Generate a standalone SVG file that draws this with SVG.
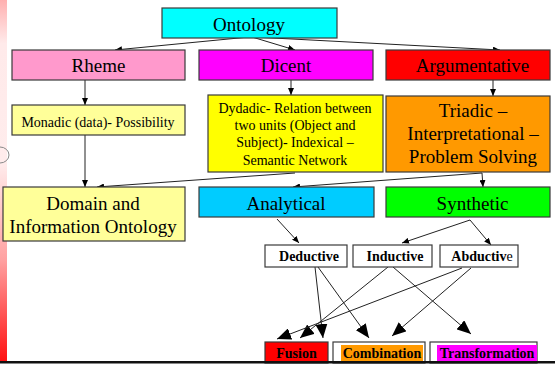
<svg xmlns="http://www.w3.org/2000/svg" width="555" height="365" viewBox="0 0 555 365">
<style>
.box{stroke:#3a3a3a;stroke-width:1.2}
.t{font-family:"Liberation Serif","Times New Roman",serif;fill:#000;text-anchor:middle}
.big{font-size:19px}
.sm{font-size:14px}
.b{font-size:14px;font-weight:bold}
.c{stroke:#222;stroke-width:1;fill:none}
</style>
<defs>
<linearGradient id="strip" x1="0" y1="0" x2="0" y2="1">
<stop offset="0" stop-color="#ffb0b0"/>
<stop offset="0.12" stop-color="#ffeaea"/>
<stop offset="0.45" stop-color="#ffecec"/>
<stop offset="0.72" stop-color="#ffa0a0"/>
<stop offset="1" stop-color="#ff1010"/>
</linearGradient>
<marker id="a" markerUnits="userSpaceOnUse" markerWidth="7" markerHeight="6" refX="7" refY="3" orient="auto">
<path d="M0,0 L7,3 L0,6 z" fill="#000"/>
</marker>
<marker id="A" markerUnits="userSpaceOnUse" markerWidth="14" markerHeight="12" refX="14" refY="6" orient="auto">
<path d="M0,0 L14,6 L0,12 z" fill="#000"/>
</marker>
</defs>
<rect x="0" y="0" width="555" height="365" fill="#fff"/>
<rect x="0" y="0" width="7" height="362" fill="url(#strip)"/>
<path d="M0,147 A9,8 0 0 1 0,163" fill="none" stroke="#888" stroke-width="1"/>

<g id="connectors">
<line class="c" x1="249" y1="37" x2="115" y2="50" marker-end="url(#a)"/>
<line class="c" x1="252" y1="37" x2="295" y2="50" marker-end="url(#a)"/>
<line class="c" x1="254" y1="37" x2="500" y2="50" marker-end="url(#a)"/>
<line class="c" x1="85" y1="80" x2="85" y2="105" marker-end="url(#a)"/>
<line class="c" x1="291" y1="80" x2="291" y2="95" marker-end="url(#a)"/>
<line class="c" x1="493" y1="80" x2="493" y2="96" marker-end="url(#a)"/>
<line class="c" x1="85" y1="135" x2="85" y2="187" marker-end="url(#a)"/>
<line class="c" x1="295" y1="173" x2="97" y2="187" marker-end="url(#a)"/>
<line class="c" x1="482" y1="173" x2="293" y2="187" marker-end="url(#a)"/>
<line class="c" x1="482" y1="173" x2="483" y2="187" marker-end="url(#a)"/>
<line class="c" x1="277" y1="219" x2="299" y2="243" marker-end="url(#a)"/>
<line class="c" x1="470" y1="220" x2="402" y2="243" marker-end="url(#a)"/>
<line class="c" x1="470" y1="220" x2="491" y2="245" marker-end="url(#a)"/>
<line class="c" x1="315" y1="267" x2="323" y2="338" marker-end="url(#A)"/>
<line class="c" x1="318" y1="267" x2="369" y2="338" marker-end="url(#A)"/>
<line class="c" x1="388" y1="267" x2="300" y2="338" marker-end="url(#A)"/>
<line class="c" x1="393" y1="267" x2="471" y2="334" marker-end="url(#A)"/>
<line class="c" x1="462" y1="268" x2="277" y2="339" marker-end="url(#A)"/>
<line class="c" x1="471" y1="268" x2="392" y2="336" marker-end="url(#A)"/>
</g>

<g id="ontology">
<rect class="box" x="162" y="8" width="175" height="30" fill="#00ffff"/>
<text class="t big" x="249" y="31">Ontology</text>
</g>
<g id="rheme">
<rect class="box" x="12" y="50" width="173" height="30" fill="#ff99cc"/>
<text class="t big" x="98.5" y="72">Rheme</text>
</g>
<g id="dicent">
<rect class="box" x="199" y="50" width="174" height="30" fill="#ff00ff"/>
<text class="t big" x="286" y="72">Dicent</text>
</g>
<g id="argumentative">
<rect class="box" x="386" y="50" width="164" height="30" fill="#ff0000"/>
<text class="t big" x="472.5" y="72">Argumentative</text>
</g>
<g id="monadic">
<rect class="box" x="12" y="105" width="173" height="30" fill="#ffff99"/>
<text class="t sm" x="98" y="127">Monadic (data)- Possibility</text>
</g>
<g id="dyadic">
<rect class="box" x="208" y="95" width="175" height="77" fill="#ffff00"/>
<text class="t sm" x="295" y="112.7">Dydadic- Relation between</text>
<text class="t sm" x="295" y="130">two units (Object and</text>
<text class="t sm" x="295" y="147.3">Subject)-  Indexical –</text>
<text class="t sm" x="295" y="165">Semantic Network</text>
</g>
<g id="triadic">
<rect class="box" x="386" y="96" width="164" height="76" fill="#ff9900"/>
<text class="t big" x="473" y="117.3">Triadic –</text>
<text class="t big" x="473" y="140">Interpretational –</text>
<text class="t big" x="473" y="162.7">Problem Solving</text>
</g>
<g id="domain">
<rect class="box" x="3" y="187" width="182" height="54" fill="#ffff99"/>
<text class="t big" x="93" y="210">Domain and</text>
<text class="t big" x="93" y="232.7">Information Ontology</text>
</g>
<g id="analytical">
<rect class="box" x="199" y="187" width="175" height="30" fill="#00ccff"/>
<text class="t big" x="286" y="209.5">Analytical</text>
</g>
<g id="synthetic">
<rect class="box" x="386" y="187" width="164" height="30" fill="#00ff00"/>
<text class="t big" x="472.5" y="209.5">Synthetic</text>
</g>
<g id="deductive">
<rect class="box" x="265" y="245" width="82" height="22" fill="#fff"/>
<text class="t b" x="309" y="261">Deductive</text>
</g>
<g id="inductive">
<rect class="box" x="353" y="245" width="79" height="22" fill="#fff"/>
<text class="t b" x="395" y="261">Inductive</text>
</g>
<g id="abductive">
<rect class="box" x="440" y="245" width="78" height="22" fill="#fff"/>
<text class="t b" x="482" y="261">Abductiv<tspan font-weight="normal">e</tspan></text>
</g>
<g id="fusion">
<rect class="box" x="265" y="342" width="63" height="21" fill="#ff0000"/>
<text class="t b" x="296.5" y="358">Fusion</text>
</g>
<g id="combination">
<rect class="box" x="333" y="342" width="92" height="21" fill="#fff"/>
<rect x="341" y="345" width="82" height="16" fill="#ff9900"/>
<text class="t b" x="382" y="358">Combination</text>
</g>
<g id="transformation">
<rect class="box" x="430" y="342" width="107" height="21" fill="#fff"/>
<rect x="437" y="345" width="100" height="16" fill="#ff00ff"/>
<text class="t b" x="487" y="358">Transformation</text>
</g>
<rect x="0" y="361" width="555" height="2.5" fill="#111"/>
</svg>
